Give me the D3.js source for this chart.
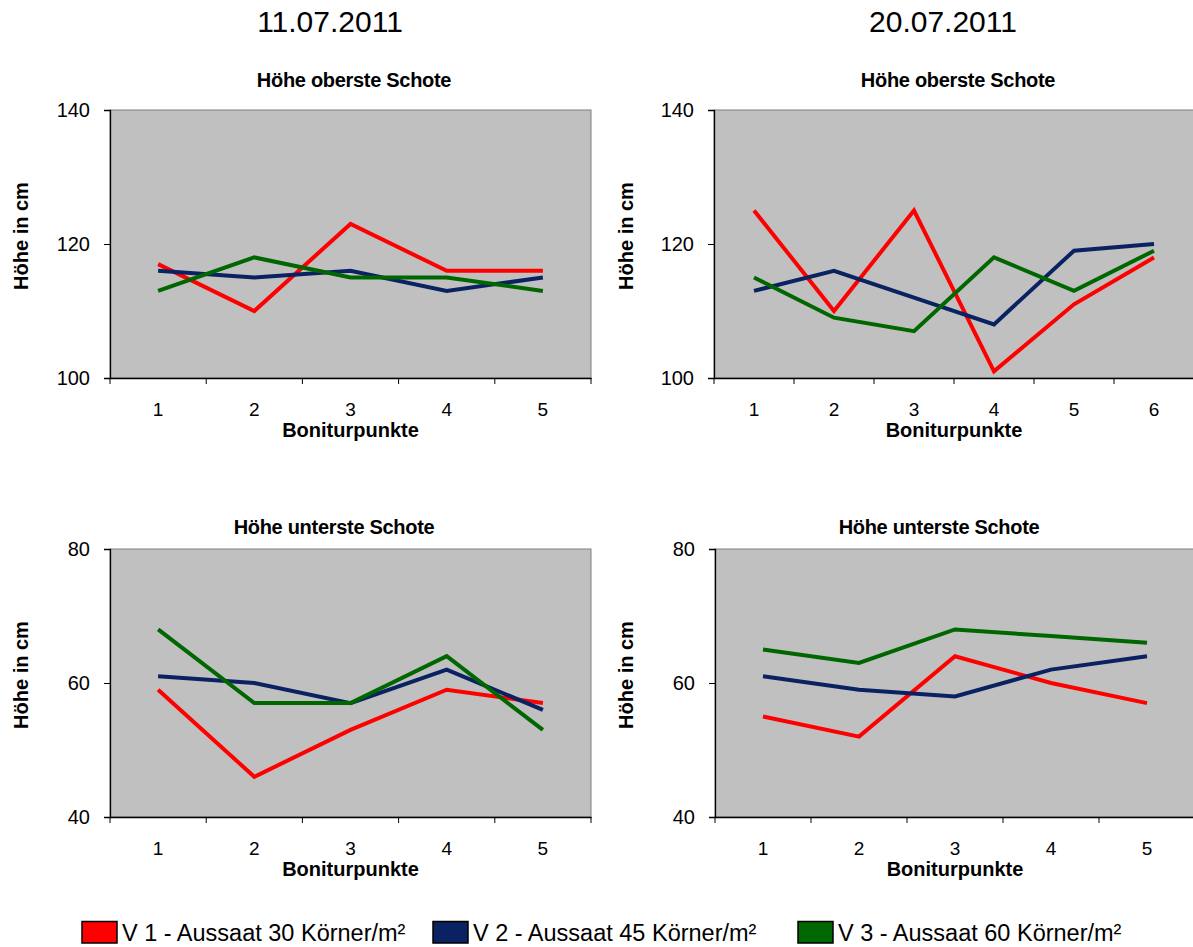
<!DOCTYPE html>
<html>
<head>
<meta charset="utf-8">
<script src="https://cdn.jsdelivr.net/npm/d3@7"></script>
<style>
  html, body { margin: 0; padding: 0; background: #ffffff; }
  svg { display: block; font-family: "Liberation Sans", Arial, sans-serif; }
</style>
</head>
<body>
<svg id="chart" width="1193" height="947"></svg>
<script>
// Series definitions
const seriesNames = ["V 1 - Aussaat 30 Körner/m²", "V 2 - Aussaat 45 Körner/m²", "V 3 - Aussaat 60 Körner/m²"];
const seriesColors = ["#ff0000", "#0a2262", "#006600"];

// Dates (column headings)
const dates = ["11.07.2011", "20.07.2011"];

// Categories per panel
const pointsA = [1, 2, 3, 4, 5];
const pointsB = [1, 2, 3, 4, 5, 6];

// Höhe oberste Schote, 11.07.2011
const topJul11_V1 = [117, 110, 123, 116, 116];
const topJul11_V2 = [116, 115, 116, 113, 115];
const topJul11_V3 = [113, 118, 115, 115, 113];

// Höhe oberste Schote, 20.07.2011
const topJul20_V1 = [125, 110, 125, 101, 111, 118];
const topJul20_V2 = [113, 116, 112, 108, 119, 120];
const topJul20_V3 = [115, 109, 107, 118, 113, 119];

// Höhe unterste Schote, 11.07.2011
const lowJul11_V1 = [59, 46, 53, 59, 57];
const lowJul11_V2 = [61, 60, 57, 62, 56];
const lowJul11_V3 = [68, 57, 57, 64, 53];

// Höhe unterste Schote, 20.07.2011
const lowJul20_V1 = [55, 52, 64, 60, 57];
const lowJul20_V2 = [61, 59, 58, 62, 64];
const lowJul20_V3 = [65, 63, 68, 67, 66];

// Axis tick values
const ticksTop = [100, 120, 140];
const ticksLow = [40, 60, 80];

const titleTop = "Höhe oberste Schote";
const titleLow = "Höhe unterste Schote";
const yLabel = "Höhe in cm";
const xLabel = "Boniturpunkte";

const svg = d3.select("#chart");

// Column headings
const headX = [330, 943];
dates.forEach((d, i) => {
  svg.append("text")
    .attr("x", headX[i]).attr("y", 32)
    .attr("text-anchor", "middle")
    .attr("font-size", 30)
    .attr("fill", "#000")
    .text(d);
});

const panels = [
  { left: 110, top: 110, width: 481, height: 268, cats: pointsA, domain: [100, 140], ticks: ticksTop,
    title: titleTop, titleX: 354, titleY: 87, ylabX: 28,
    data: [topJul11_V1, topJul11_V2, topJul11_V3] },
  { left: 714, top: 110, width: 480, height: 268, cats: pointsB, domain: [100, 140], ticks: ticksTop,
    title: titleTop, titleX: 958, titleY: 87, ylabX: 633,
    data: [topJul20_V1, topJul20_V2, topJul20_V3] },
  { left: 110, top: 549, width: 481, height: 268, cats: pointsA, domain: [40, 80], ticks: ticksLow,
    title: titleLow, titleX: 334, titleY: 534, ylabX: 28,
    data: [lowJul11_V1, lowJul11_V2, lowJul11_V3] },
  { left: 715, top: 549, width: 480, height: 268, cats: pointsA, domain: [40, 80], ticks: ticksLow,
    title: titleLow, titleX: 939, titleY: 534, ylabX: 633,
    data: [lowJul20_V1, lowJul20_V2, lowJul20_V3] }
];

panels.forEach(p => {
  const g = svg.append("g").attr("transform", `translate(${p.left},${p.top})`);

  const x = d3.scaleBand().domain(p.cats).range([0, p.width]).padding(0);
  const y = d3.scaleLinear().domain(p.domain).range([p.height, 0]);

  // Plot area
  g.append("rect")
    .attr("x", 0).attr("y", 0)
    .attr("width", p.width).attr("height", p.height)
    .attr("fill", "#c0c0c0")
    .attr("stroke", "#808080").attr("stroke-width", 1);

  // Y axis
  const yAxis = g.append("g")
    .call(d3.axisLeft(y).tickValues(p.ticks).tickSize(6).tickPadding(14).tickFormat(d3.format("d")));
  yAxis.select(".domain").attr("stroke", "#000").attr("stroke-width", 1.3);
  yAxis.selectAll(".tick line").attr("stroke", "#000");
  yAxis.selectAll("text").attr("font-size", 20).attr("fill", "#000")
    .attr("font-family", "'Liberation Sans', Arial, sans-serif");

  // X axis: ticks between categories
  const xAxis = g.append("g").attr("transform", `translate(0,${p.height})`)
    .call(d3.axisBottom(x).tickSize(0).tickPadding(25));
  xAxis.select(".domain").attr("stroke", "#000").attr("stroke-width", 1.3);
  xAxis.selectAll("text").attr("font-size", 19).attr("fill", "#000")
    .attr("font-family", "'Liberation Sans', Arial, sans-serif");
  const bounds = p.cats.map(c => x(c)).concat([p.width]);
  xAxis.selectAll(".sep").data(bounds).enter().append("line")
    .attr("class", "sep")
    .attr("x1", d => d).attr("x2", d => d)
    .attr("y1", 0).attr("y2", 6)
    .attr("stroke", "#000");

  // Lines
  const line = d3.line()
    .x((d, i) => x(p.cats[i]) + x.bandwidth() / 2)
    .y(d => y(d));
  p.data.forEach((vals, si) => {
    g.append("path")
      .datum(vals)
      .attr("d", line)
      .attr("fill", "none")
      .attr("stroke", seriesColors[si])
      .attr("stroke-width", 4)
      .attr("stroke-linejoin", "miter");
  });

  // Title
  svg.append("text")
    .attr("x", p.titleX).attr("y", p.titleY)
    .attr("text-anchor", "middle")
    .attr("font-size", 20).attr("font-weight", "bold")
    .attr("letter-spacing", -0.3)
    .text(p.title);

  // X label
  svg.append("text")
    .attr("x", p.left + p.width / 2).attr("y", p.top + p.height + 59)
    .attr("text-anchor", "middle")
    .attr("font-size", 20).attr("font-weight", "bold")
    .text(xLabel);

  // Y label
  svg.append("text")
    .attr("transform", `translate(${p.ylabX},${p.top + p.height / 2 - 8}) rotate(-90)`)
    .attr("text-anchor", "middle")
    .attr("font-size", 20).attr("font-weight", "bold")
    .text(yLabel);
});

// Legend
const legendX = [82, 433, 798];
const legend = svg.append("g");
seriesNames.forEach((name, i) => {
  legend.append("rect")
    .attr("x", legendX[i]).attr("y", 921.5)
    .attr("width", 35).attr("height", 21.5)
    .attr("fill", seriesColors[i])
    .attr("stroke", "#000").attr("stroke-width", 1.5);
  legend.append("text")
    .attr("x", legendX[i] + 40).attr("y", 941)
    .attr("font-size", 23.5)
    .text(name);
});
</script>
</body>
</html>
